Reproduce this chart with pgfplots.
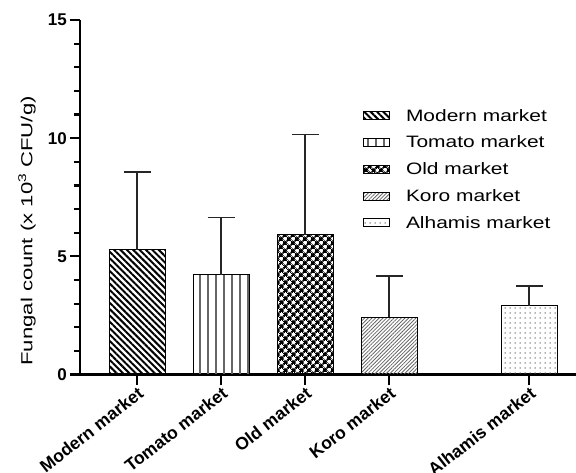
\documentclass[border=0pt]{standalone}
\usepackage{fontspec}
\setmainfont{Liberation Sans}
\newfontfamily\legfont{Liberation Sans}[FakeStretch=1.27]
\newfontfamily\labfont{Liberation Sans}[FakeStretch=1.38]
\usepackage{pgfplots}
\pgfplotsset{compat=1.18}
\usetikzlibrary{patterns.meta}
\pgfplotsset{
  mylegend/.style={legend image code/.code={\draw[##1,line width=0.8bp] (0bp,-4bp) rectangle (26bp,4bp);}},
  mybar/.style={ybar, bar width=56bp, bar shift=0pt, draw=black, line width=1bp,
    error bars/.cd, y dir=plus, y explicit,
    error bar style={line width=1.6bp, black!85},
    error mark options={rotate=90, mark size=13.5bp, line width=1.6bp, black!85},
    /pgfplots/.cd, mylegend},
}
\begin{document}
\begin{tikzpicture}
\begin{axis}[
  scale only axis, width=496bp, height=354.5bp,
  xmin=-0.679, xmax=5.226, ymin=0, ymax=15,
  axis x line*=bottom, axis y line*=left,
  axis line style={line width=2.5bp},
  tick align=outside,
  major tick length=10bp, minor tick length=6bp,
  every tick/.style={black, line width=2.2bp},
  xtick={0,1,2,3,4.67},
  xticklabels={Modern market,Tomato market,Old market,Koro market,Alhamis market},
  xticklabel style={rotate=38, anchor=north east, font=\bfseries\fontsize{17.5bp}{17.5bp}\selectfont, inner sep=1bp},
  ytick={0,5,10,15}, yticklabels={0,5,10,15},
  minor ytick={1,2,3,4,6,7,8,9,11,12,13,14},
  yticklabel style={font=\bfseries\fontsize{17bp}{17bp}\selectfont, inner sep=3bp},
  ylabel={Fungal count (x 10\textsuperscript{3} CFU/g)},
  ylabel style={font=\labfont\fontsize{16bp}{16bp}\selectfont, at={(rel axis cs:0,0.405)}, anchor=center, yshift=53bp},
  legend style={at={(rel axis cs:0.5706,0.7548)}, anchor=north west, draw=none, fill=none,
    font=\legfont\fontsize{16.5bp}{16.5bp}\selectfont, inner sep=0pt, row sep=9.3bp, column sep=14bp,
    nodes={inner sep=2bp}},
  legend cell align=left,
  clip=false,
]
\coordinate (bl) at (rel axis cs:0,0);
\coordinate (tr) at (rel axis cs:1,1);
\addplot[mybar, pattern={Lines[angle=-45, distance=4.5bp, line width=2bp]}, pattern color=black]
  coordinates {(0,5.27) +- (0,3.29)};
\addlegendentry{Modern market}
\addplot[mybar, pattern={Lines[angle=90, distance=8bp, line width=1.2bp]}, pattern color=black!60]
  coordinates {(1,4.22) +- (0,2.43)};
\addlegendentry{Tomato market}
\addplot[mybar, pattern={Hatch[angle=45, distance=6bp, line width=2.4bp]}, pattern color=black]
  coordinates {(2,5.92) +- (0,4.24)};
\addlegendentry{Old market}
\addplot[mybar, pattern={Lines[angle=45, distance=2.6bp, line width=0.8bp]}, pattern color=black!60]
  coordinates {(3,2.42) +- (0,1.74)};
\addlegendentry{Koro market}
\addplot[mybar, pattern={Dots[distance=5bp, radius=0.75bp]}, pattern color=black!60]
  coordinates {(4.67,2.90) +- (0,0.85)};
\addlegendentry{Alhamis market}
\end{axis}
\pgfresetboundingbox
\useasboundingbox ([xshift=-80bp,yshift=-98.5bp]bl) rectangle ([yshift=20bp]tr);
\end{tikzpicture}
\end{document}
